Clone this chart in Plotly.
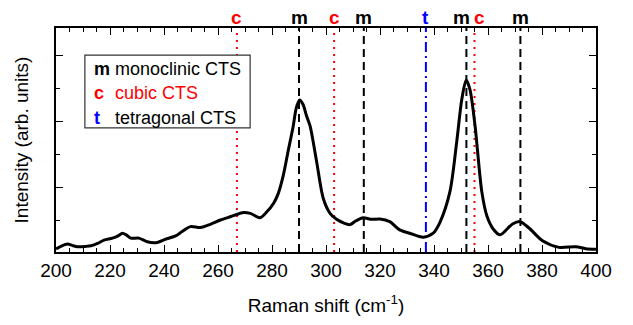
import plotly.graph_objects as go

# Raman spectrum
raman_shift = [200.0, 202.0, 204.3, 206.0, 208.0, 211.0, 213.0, 215.4, 217.8, 220.9,
               223.0, 224.6, 226.0, 227.7, 230.7, 233.8, 237.5, 240.6, 244.3, 246.7,
               249.8, 253.5, 257.2, 260.9, 264.6, 269.5, 272.0, 275.6, 278.0, 280.6,
               282.3, 284.2, 286.0, 287.8, 289.0, 290.2, 291.5, 292.8, 294.1, 296.5,
               299.0, 301.5, 303.9, 306.5, 308.9, 311.0, 313.8, 316.5, 320.0, 323.6,
               327.3, 331.0, 336.0, 339.7, 342.2, 345.9, 348.4, 350.3, 351.9, 353.3,
               355.2, 357.7, 359.6, 362.0, 364.5, 369.1, 371.9, 375.3, 380.2, 386.3,
               392.5, 396.2, 400.0]
intensity = [0.12, 0.21, 0.27, 0.23, 0.19, 0.20, 0.22, 0.29, 0.39, 0.45,
             0.52, 0.60, 0.55, 0.45, 0.45, 0.34, 0.32, 0.42, 0.52, 0.65,
             0.80, 0.77, 0.87, 1.00, 1.10, 1.23, 1.20, 1.07, 1.24, 1.51,
             1.80, 2.36, 3.10, 3.82, 4.40, 4.64, 4.50, 4.15, 3.85, 2.78,
             1.65, 1.20, 1.02, 0.91, 0.86, 0.97, 1.07, 1.02, 1.03, 0.95,
             0.70, 0.60, 0.48, 0.60, 0.93, 1.86, 3.36, 4.66, 5.24, 4.96,
             3.86, 1.86, 1.12, 0.72, 0.55, 0.88, 0.95, 0.75, 0.37, 0.17,
             0.19, 0.13, 0.11]

# Reference phase positions
mono_pos = [290, 314, 352, 372]
cubic_pos = [267, 303, 355]
tetra_pos = [337]

# Top label positions (letters shifted slightly where lines are close)
top_labels = ["c", "m", "c", "m", "t", "m", "c", "m"]
top_label_x = [267, 290, 303, 314, 337, 350, 357, 372]

legend_letters = ["m", "c", "t"]
legend_texts = ["monoclinic CTS", "cubic CTS", "tetragonal CTS"]

BLACK = "#000000"
RED = "#ff0000"
BLUE = "#0000ff"
letter_color = {"m": BLACK, "c": RED, "t": BLUE}
legend_text_color = [BLACK, RED, BLACK]

FONT = "Liberation Sans, Arial, sans-serif"

fig = go.Figure()

shapes = []
for xv in cubic_pos:
    shapes.append(dict(type="line", xref="x", yref="paper", x0=xv, x1=xv, y0=0, y1=1,
                       line=dict(color=RED, width=2, dash="2px,5px"), layer="below"))
for xv in mono_pos:
    shapes.append(dict(type="line", xref="x", yref="paper", x0=xv, x1=xv, y0=0, y1=1,
                       line=dict(color=BLACK, width=2, dash="8px,5px"), layer="below"))
for xv in tetra_pos:
    shapes.append(dict(type="line", xref="x", yref="paper", x0=xv, x1=xv, y0=0, y1=1,
                       line=dict(color=BLUE, width=2, dash="10px,4px,2px,4px"), layer="below"))

# legend box
shapes.append(dict(type="rect", xref="x", yref="y", x0=210.7, x1=271.9, y0=3.79, y1=6.0,
                   line=dict(color="#333333", width=1.2), fillcolor="white", layer="above"))

fig.add_trace(go.Scatter(x=raman_shift, y=intensity, mode="lines",
                         line=dict(color=BLACK, width=3, shape="spline", smoothing=0.8),
                         showlegend=False, hoverinfo="skip"))

annotations = []
for lab, xv in zip(top_labels, top_label_x):
    annotations.append(dict(x=xv, y=1.045, xref="x", yref="paper", text="<b>%s</b>" % lab,
                            showarrow=False, xanchor="center", yanchor="middle",
                            font=dict(family=FONT, size=19, color=letter_color[lab])))

legend_y = [5.57, 4.84, 4.08]
for lt, tx, yv, tc in zip(legend_letters, legend_texts, legend_y, legend_text_color):
    annotations.append(dict(x=213.2, y=yv, xref="x", yref="y", text="<b>%s</b>" % lt,
                            showarrow=False, xanchor="left", yanchor="middle",
                            font=dict(family=FONT, size=18, color=letter_color[lt])))
    annotations.append(dict(x=221.1, y=yv, xref="x", yref="y", text=tx,
                            showarrow=False, xanchor="left", yanchor="middle",
                            font=dict(family=FONT, size=18, color=tc)))

fig.update_layout(
    width=633, height=325,
    margin=dict(l=56, r=37, t=28, b=73),
    plot_bgcolor="white", paper_bgcolor="white",
    shapes=shapes, annotations=annotations,
    font=dict(family=FONT, size=19, color=BLACK),
    xaxis=dict(range=[200, 400], tickvals=[200, 220, 240, 260, 280, 300, 320, 340, 360, 380, 400],
               ticks="inside", ticklen=7, tickwidth=1, tickcolor=BLACK,
               minor=dict(dtick=5, tick0=200, ticks="inside", ticklen=4, tickwidth=1, tickcolor=BLACK),
               showline=True, linecolor=BLACK, linewidth=1.5, mirror="ticks",
               showgrid=False, zeroline=False,
               tickfont=dict(family=FONT, size=19),
               title=dict(text="Raman shift (cm<sup>-1</sup>)", font=dict(family=FONT, size=19), standoff=19)),
    yaxis=dict(range=[0.03, 6.82], tickvals=[0, 2, 4, 6], showticklabels=False,
               ticks="inside", ticklen=7, tickwidth=1, tickcolor=BLACK,
               minor=dict(tickvals=[1, 3, 5], ticks="inside", ticklen=4, tickwidth=1, tickcolor=BLACK),
               showline=True, linecolor=BLACK, linewidth=1.5, mirror="ticks",
               showgrid=False, zeroline=False, automargin=True,
               title=dict(text="Intensity (arb. units)", font=dict(family=FONT, size=19), standoff=21)),
)

fig.write_html("out.html")
